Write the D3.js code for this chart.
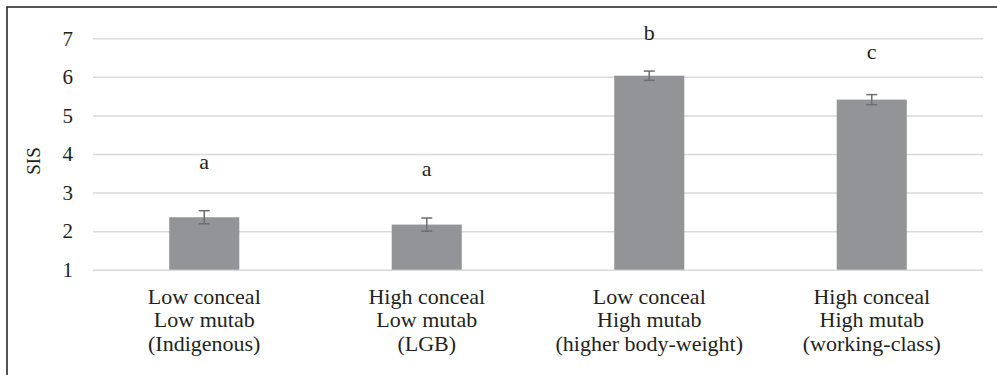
<!DOCTYPE html>
<html>
<head>
<meta charset="utf-8">
<script src="https://cdn.jsdelivr.net/npm/d3@7"></script>
<style>
  html, body { margin: 0; padding: 0; background: #fff; }
  svg { display: block; }
</style>
</head>
<body>
<svg id="chart" width="997" height="375"></svg>
<script>
// ---- data ----
const categories = [
  ["Low conceal", "Low mutab", "(Indigenous)"],
  ["High conceal", "Low mutab", "(LGB)"],
  ["Low conceal", "High mutab", "(higher body-weight)"],
  ["High conceal", "High mutab", "(working-class)"]
];
const means = [2.36, 2.17, 6.03, 5.41];
const errors = [0.17, 0.17, 0.12, 0.13];
const letters = ["a", "a", "b", "c"];
const letterLevels = [3.60, 3.43, 6.95, 6.47];
const yTicks = [1, 2, 3, 4, 5, 6, 7];
const yLabel = "SIS";

// ---- layout ----
const FONT = "Liberation Serif";
const TXT = "#231f20";
const svg = d3.select("#chart");
const W = 997, H = 375;
const plot = { left: 93, right: 983, top: 38.3, bottom: 269.7 };

svg.append("rect")
  .attr("x", 7).attr("y", 7)
  .attr("width", W + 10).attr("height", H + 10)
  .attr("fill", "#fff").attr("stroke", "#2b2b2b").attr("stroke-width", 1.6);

const x = d3.scaleBand()
  .domain(d3.range(categories.length))
  .range([plot.left, plot.right])
  .paddingInner(0.685)
  .paddingOuter(0.3425);

const y = d3.scaleLinear().domain([1, 7]).range([plot.bottom, plot.top]);

// gridlines + tick labels via axis
const yAxis = d3.axisLeft(y)
  .tickValues(yTicks)
  .tickSize(-(plot.right - plot.left))
  .tickPadding(20)
  .tickFormat(d3.format("d"));

const gy = svg.append("g")
  .attr("transform", `translate(${plot.left},0)`)
  .call(yAxis);
gy.attr("font-family", FONT).attr("font-size", 21);
gy.select(".domain").remove();
gy.selectAll(".tick line").attr("stroke", "#d9d9d9").attr("stroke-width", 1.5);
gy.selectAll(".tick text")
  .attr("fill", TXT)
  .attr("font-family", FONT)
  .attr("font-size", 21);

// y label
svg.append("text")
  .attr("transform", `translate(40,161) rotate(-90)`)
  .attr("text-anchor", "middle")
  .attr("fill", TXT)
  .attr("font-family", FONT)
  .attr("font-size", 19)
  .text(yLabel);

// bars
const bw = x.bandwidth();
svg.append("g").selectAll("rect")
  .data(means)
  .join("rect")
  .attr("x", (d, i) => x(i))
  .attr("width", bw)
  .attr("y", d => y(d))
  .attr("height", d => y(1) - y(d))
  .attr("fill", "#929497");

// error bars
const eg = svg.append("g").attr("stroke", "#6d6e71").attr("stroke-width", 1.5);
means.forEach((m, i) => {
  const cx = x(i) + bw / 2;
  const top = y(m + errors[i]), bot = y(m - errors[i]);
  eg.append("line").attr("x1", cx).attr("x2", cx).attr("y1", top).attr("y2", bot);
  eg.append("line").attr("x1", cx - 5.5).attr("x2", cx + 5.5).attr("y1", top).attr("y2", top);
  eg.append("line").attr("x1", cx - 5.5).attr("x2", cx + 5.5).attr("y1", bot).attr("y2", bot);
});

// significance letters
svg.append("g").selectAll("text")
  .data(letters)
  .join("text")
  .attr("x", (d, i) => x(i) + bw / 2)
  .attr("y", (d, i) => y(letterLevels[i]))
  .attr("text-anchor", "middle")
  .attr("fill", TXT)
  .attr("font-family", FONT)
  .attr("font-size", 22)
  .text(d => d);

// category labels
const cg = svg.append("g");
categories.forEach((lines, i) => {
  const t = cg.append("text")
    .attr("x", x(i) + bw / 2)
    .attr("y", 304)
    .attr("text-anchor", "middle")
    .attr("fill", TXT)
    .attr("font-family", FONT)
    .attr("font-size", 22);
  lines.forEach((ln, j) => {
    t.append("tspan")
      .attr("x", x(i) + bw / 2)
      .attr("dy", j === 0 ? 0 : 23.3)
      .text(ln);
  });
});
</script>
</body>
</html>
